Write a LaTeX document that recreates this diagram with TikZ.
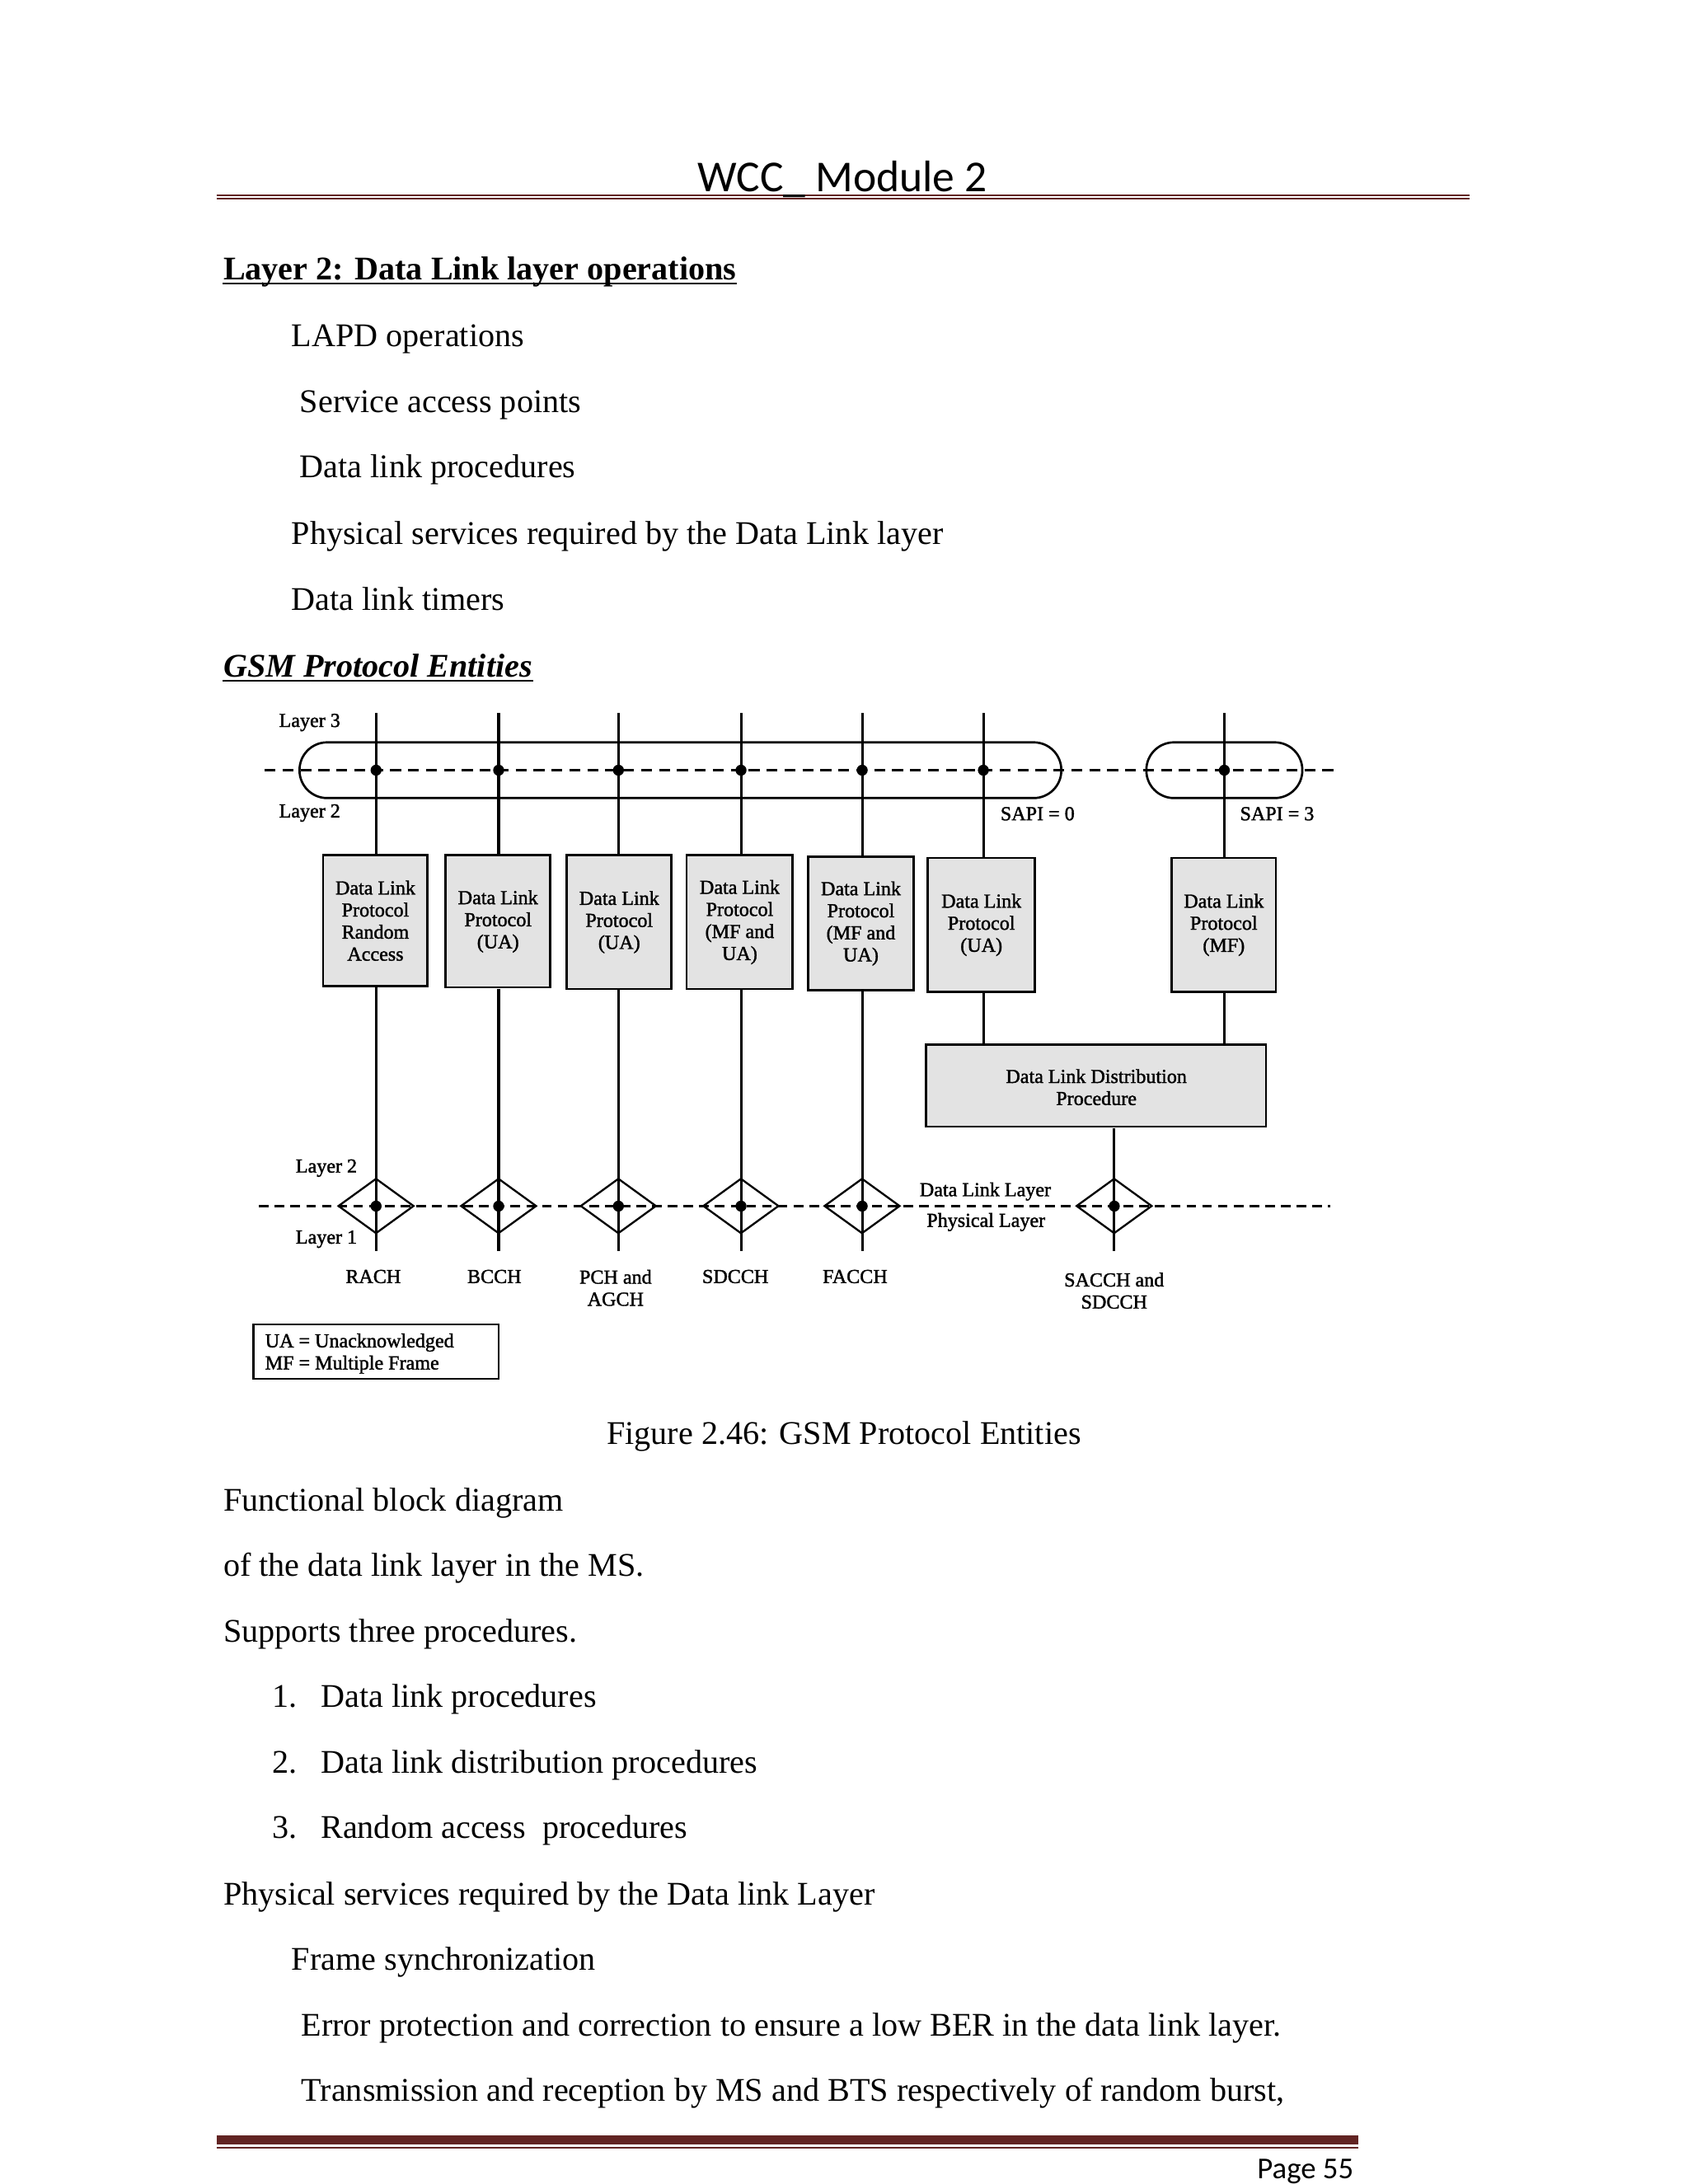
\documentclass[tikz,border=0pt]{standalone}
\usepackage{fontspec}
\setmainfont{Liberation Serif}
\newfontfamily\calibrifont{Carlito}
\newfontfamily\diagfont{Liberation Serif}[FakeBold=1.5]
\usetikzlibrary{fit,shapes.geometric}
\definecolor{hdrred}{HTML}{622423}
\definecolor{boxgray}{gray}{0.89}
\begin{document}
\begin{tikzpicture}[x=0.5bp,y=-0.5bp,
  txt/.style={inner sep=0pt, anchor=base west, font=\fontsize{12bp}{14bp}\selectfont},
  dfont/.style={font=\diagfont\fontsize{7.2bp}{8bp}\selectfont},
  pbox/.style={draw, line width=0.8bp, fill=boxgray, inner sep=0pt},
  boxtxt/.style={inner sep=0pt, align=center, dfont},
  vline/.style={line width=0.9bp},
  dashline/.style={line width=0.8bp, dash pattern=on 4bp off 2.5bp},
  dashlow/.style={line width=0.65bp, dash pattern=on 3.5bp off 2.2bp},
  jdot/.style={circle, fill=black, inner sep=0pt, minimum size=4bp},
  dmd/.style={diamond, draw, line width=0.7bp, inner sep=0pt, minimum width=27.5bp, minimum height=20bp},
  lbl/.style={dfont, inner sep=0pt, anchor=base west},
  clbl/.style={dfont, inner sep=0pt, anchor=north, align=center},
  pill/.style={draw, line width=0.8bp, rounded corners=10bp, inner sep=0pt},
  ulin/.style={line width=0.6bp}
]
\useasboundingbox (0,0) rectangle (1224,1584);
\fill[white] (0,0) rectangle (1224,1584);

% ---------- header rules ----------
\coordinate (hl1a) at (157,141.5); \coordinate (hl1b) at (1066,141.5);
\coordinate (hl2a) at (157,144.3); \coordinate (hl2b) at (1066,144.3);
\draw[hdrred, line width=0.6bp] (hl1a) -- (hl1b);
\draw[hdrred, line width=0.6bp] (hl2a) -- (hl2b);

% ---------- footer ----------
\fill[hdrred] (157,1549) rectangle (985,1555);
\coordinate (fla) at (157,1557.5); \coordinate (flb) at (985,1557.5);
\draw[hdrred, line width=0.5bp] (fla) -- (flb);
\node[inner sep=0pt, anchor=base east, font=\calibrifont\fontsize{11bp}{13bp}\selectfont] (pg) at (982,1580) {Page 55};

\begin{scope}[scale=1.01]
\node[inner sep=0pt, anchor=base, font=\calibrifont\fontsize{16bp}{19bp}\selectfont] (hdr) at (605,137.5) {WCC\_ Module 2};

% ---------- top text ----------
\node[txt, font=\fontsize{12bp}{14bp}\selectfont\bfseries] (h1) at (160,201) {Layer 2: Data Link layer operations};
\draw[ulin] ([yshift=-1.3bp]h1.base west) -- ([yshift=-1.3bp]h1.base east);
\node[txt] (l1) at (209,249) {LAPD operations};
\node[txt] (l2) at (215,296) {Service access points};
\node[txt] (l3) at (215,343) {Data link procedures};
\node[txt] (l4) at (209,391) {Physical services required by the Data Link layer};
\node[txt] (l5) at (209,438) {Data link timers};
\node[txt, font=\fontsize{12bp}{14bp}\selectfont\bfseries\itshape] (h2) at (160,486) {GSM Protocol Entities};
\draw[ulin] ([yshift=-1.3bp]h2.base west) -- ([yshift=-1.3bp]h2.base east);

% ---------- diagram ----------
\node[pill, fit={(215,533) (762,573)}] (pillA) {};
\node[pill, fit={(823,533) (935,573)}] (pillB) {};
\coordinate (udl) at (190,553); \coordinate (udr) at (958,553);
\draw[dashline] (udl) -- (udr);

\node[pbox, fit={(232,614) (307,708)}] (b1) {};
\node[pbox, fit={(320,614) (395,709)}] (b2) {};
\node[pbox, fit={(407,614) (482,710)}] (b3) {};
\node[pbox, fit={(493,614) (569,710)}] (b4) {};
\node[pbox, fit={(580,615) (656,711)}] (b5) {};
\node[pbox, fit={(666,616) (743,712)}] (b6) {};
\node[pbox, fit={(841,616) (916,712)}] (b7) {};
\node[pbox, fit={(665,750) (909,809)}] (dist) {};
\node[boxtxt] (b1t) at (b1.center) {Data Link\\Protocol\\Random\\Access};
\node[boxtxt] (b2t) at (b2.center) {Data Link\\Protocol\\(UA)};
\node[boxtxt] (b3t) at (b3.center) {Data Link\\Protocol\\(UA)};
\node[boxtxt] (b4t) at (b4.center) {Data Link\\Protocol\\(MF and\\UA)};
\node[boxtxt] (b5t) at (b5.center) {Data Link\\Protocol\\(MF and\\UA)};
\node[boxtxt] (b6t) at (b6.center) {Data Link\\Protocol\\(UA)};
\node[boxtxt] (b7t) at (b7.center) {Data Link\\Protocol\\(MF)};
\node[boxtxt] (distt) at ([yshift=-0.5bp]dist.center) {Data Link Distribution\\Procedure};

\coordinate (t1) at (270,512);
\coordinate (t2) at (358,512);
\coordinate (t3) at (444,512);
\coordinate (t4) at (532,512);
\coordinate (t5) at (619,512);
\coordinate (t6) at (706,512);
\coordinate (t7) at (879,512);
\foreach \i in {1,...,7} {\draw[vline] (t\i) -- (t\i |- b\i.north);}
\foreach \i in {1,...,7} {\node[jdot] (ud\i) at (t\i |- udl) {};}

\node[dmd] (m1) at (270,866) {};
\node[dmd] (m2) at (358,866) {};
\node[dmd] (m3) at (444,866) {};
\node[dmd] (m4) at (532,866) {};
\node[dmd] (m5) at (619,866) {};
\node[dmd] (m6) at (800,866) {};
\coordinate (ldl) at (186,866); \coordinate (ldr) at (955,866);
\draw[dashlow] (ldl) -- (ldr);

\foreach \i/\x in {1/270,2/358,3/444,4/532,5/619,6/800} {\coordinate (e\i) at (\x,898);}
\foreach \i in {1,...,5} {\draw[vline] (b\i.south -| t\i) -- (e\i);}
\draw[vline] (b6.south -| t6) -- (t6 |- dist.north);
\draw[vline] (b7.south -| t7) -- (t7 |- dist.north);
\draw[vline] (e6 |- dist.south) -- (e6);
\foreach \i in {1,...,6} {\node[jdot] (ld\i) at (m\i.center) {};}

\node[lbl] (lay3) at (200,522) {Layer 3};
\node[lbl] (lay2a) at (200,587) {Layer 2};
\node[lbl] (sapi0) at (718,589) {SAPI = 0};
\node[lbl] (sapi3) at (890,589) {SAPI = 3};
\node[lbl] (lay2b) at (212,842) {Layer 2};
\node[lbl] (lay1) at (212,893) {Layer 1};
\node[lbl] (dll) at (660,859) {Data Link Layer};
\node[lbl] (phl) at (665,881) {Physical Layer};

\node[clbl] (rach) at (268,911.5) {RACH};
\node[clbl] (bcch) at (355,911.5) {BCCH};
\node[clbl] (pch) at (442,911.5) {PCH and\\AGCH};
\node[clbl] (sdcch) at (528,911.5) {SDCCH};
\node[clbl] (facch) at (614,911.5) {FACCH};
\node[clbl] (sacch) at (800,913.5) {SACCH and\\SDCCH};

\node[draw, line width=0.7bp, inner sep=0pt, fit={(182,951) (358,990)}] (legend) {};
\node[dfont, inner sep=0pt, anchor=west, align=left] (legtxt) at (190,972) {UA = Unacknowledged\\MF = Multiple Frame};

% ---------- caption & lower text ----------
\node[txt, anchor=base] (cap) at (606,1037) {Figure 2.46: GSM Protocol Entities};
\node[txt] (p1) at (160,1085) {Functional block diagram};
\node[txt] (p2) at (160,1132) {of the data link layer in the MS.};
\node[txt] (p3) at (160,1179) {Supports three procedures.};
\node[txt] (n1) at (195,1226) {1.};
\node[txt] (q1) at (230,1226) {Data link procedures};
\node[txt] (n2) at (195,1273) {2.};
\node[txt] (q2) at (230,1273) {Data link distribution procedures};
\node[txt] (n3) at (195,1320) {3.};
\node[txt] (q3) at (230,1320) {Random access\ \ procedures};
\node[txt] (p4) at (160,1368) {Physical services required by the Data link Layer};
\node[txt] (p5) at (209,1415) {Frame synchronization};
\node[txt] (p6) at (216,1462) {Error protection and correction to ensure a low BER in the data link layer.};
\node[txt] (p7) at (216,1509) {Transmission and reception by MS and BTS respectively of random burst,};
\end{scope}
\end{tikzpicture}
\end{document}
